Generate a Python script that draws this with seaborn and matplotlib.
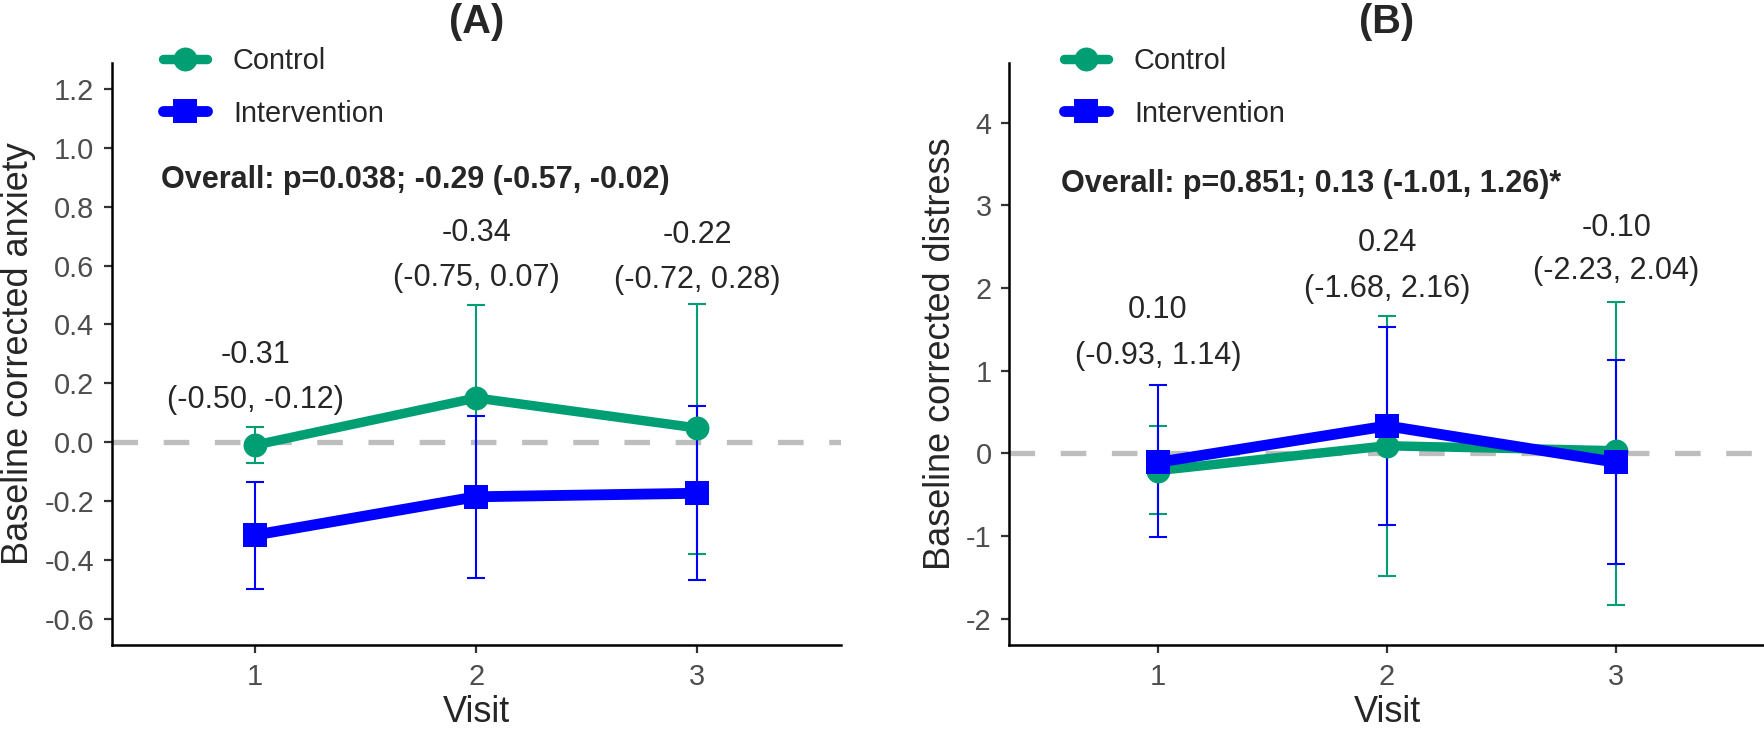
import pandas as pd
import numpy as np
import matplotlib
matplotlib.use('Agg')
import matplotlib.pyplot as plt
import seaborn as sns

sns.set_theme(style='ticks')
plt.rcParams['font.family'] = ['Liberation Sans', 'DejaVu Sans']

visits = [1, 2, 3]
groups = ['Control', 'Intervention']
colors = {'Control': '#009E73', 'Intervention': '#0000FF'}
markers = {'Control': 'o', 'Intervention': 's'}
widths = {'Control': 3.4, 'Intervention': 3.9}

# panel A - anxiety
anx_ctrl = [-0.01, 0.15, 0.048]
anx_ctrl_lo = [-0.072, -0.17, -0.38]
anx_ctrl_hi = [0.052, 0.466, 0.469]
anx_int = [-0.316, -0.186, -0.174]
anx_int_lo = [-0.50, -0.463, -0.47]
anx_int_hi = [-0.135, 0.088, 0.122]
anx_diff = ['-0.31', '-0.34', '-0.22']
anx_ci = ['(-0.50, -0.12)', '(-0.75, 0.07)', '(-0.72, 0.28)']
anx_overall = 'Overall: p=0.038; -0.29 (-0.57, -0.02)'

# panel B - distress
dis_ctrl = [-0.21, 0.09, 0.03]
dis_ctrl_lo = [-0.73, -1.49, -1.84]
dis_ctrl_hi = [0.33, 1.66, 1.83]
dis_int = [-0.11, 0.33, -0.11]
dis_int_lo = [-1.01, -0.87, -1.34]
dis_int_hi = [0.82, 1.53, 1.13]
dis_diff = ['0.10', '0.24', '-0.10']
dis_ci = ['(-0.93, 1.14)', '(-1.68, 2.16)', '(-2.23, 2.04)']
dis_overall = 'Overall: p=0.851; 0.13 (-1.01, 1.26)*'


def make_df(ctrl, intv):
    return pd.DataFrame({'Visit': visits * 2,
                         'value': ctrl + intv,
                         'group': ['Control'] * 3 + ['Intervention'] * 3})


fig = plt.figure(figsize=(8.825, 3.645), dpi=200)
axA = fig.add_axes([0.0633, 0.1152, 0.413, 0.7984])
axB = fig.add_axes([0.5717, 0.1152, 0.4283, 0.7984])

panels = [
    (axA, anx_ctrl, anx_ctrl_lo, anx_ctrl_hi, anx_int, anx_int_lo, anx_int_hi,
     'Baseline corrected anxiety', '(A)', (-0.690, 1.289),
     np.arange(-0.6, 1.21, 0.2), anx_diff, anx_ci, [0.296, 0.711, 0.704], [0.143, 0.558, 0.551],
     anx_overall, 0.891, '{:.1f}', -0.1044, 0.0704),
    (axB, dis_ctrl, dis_ctrl_lo, dis_ctrl_hi, dis_int, dis_int_lo, dis_int_hi,
     'Baseline corrected distress', '(B)', (-2.32, 4.72),
     np.arange(-2, 4.1, 1), dis_diff, dis_ci, [1.73, 2.54, 2.73], [1.17, 1.99, 2.21],
     dis_overall, 3.26, '{:.0f}', -0.0675, 0.0728),
]

for (ax, c, clo, chi, iv, ilo, ihi, ylab, title, yl, yt, diff, ci, ydiff, yci,
     overall, oy, fmt, ylab_x, leg_x) in panels:
    ax.axhline(0, color='#BEBEBE', lw=1.9, dashes=(4.85, 4.85), zorder=1)
    for vals, lo, hi, g in [(c, clo, chi, 'Control'), (iv, ilo, ihi, 'Intervention')]:
        v = np.array(vals)
        ax.errorbar(visits, v, yerr=[v - np.array(lo), np.array(hi) - v], fmt='none',
                    ecolor=colors[g], elinewidth=0.75, capsize=3.1, capthick=0.75, zorder=2)
    df = make_df(c, iv)
    for g in groups:
        sns.lineplot(data=df[df['group'] == g], x='Visit', y='value', color=colors[g],
                     marker=markers[g], lw=widths[g], markersize=8.6, markeredgewidth=0,
                     ax=ax, legend=False, zorder=3)
    ax.set_xlim(0.35, 3.65)
    ax.set_ylim(*yl)
    ax.set_xticks(visits)
    ax.set_yticks(yt)
    ax.set_yticklabels([fmt.format(t).replace('-0.0', '0.0') for t in yt])
    ax.set_xlabel('Visit', fontsize=13)
    ax.set_ylabel(ylab, fontsize=13)
    ax.xaxis.set_label_coords(0.5, -0.0866)
    ax.yaxis.set_label_coords(ylab_x, 0.5)
    ax.tick_params(labelsize=10.4, length=2.9, width=0.8, pad=3.4,
                   color='#333333', labelcolor='#4D4D4D')
    ax.text(0.5, 1.0704, title, transform=ax.transAxes, ha='center', va='center',
            fontsize=14.3, fontweight='bold')
    sns.despine(ax=ax)
    for s in ['left', 'bottom']:
        ax.spines[s].set_linewidth(0.9)
        ax.spines[s].set_color('black')
    for k in range(3):
        ax.text(visits[k], ydiff[k], diff[k], ha='center', va='center', fontsize=11)
        ax.text(visits[k], yci[k], ci[k], ha='center', va='center', fontsize=11)
    ax.text(0.575, oy, overall, ha='left', va='center', fontsize=11, fontweight='bold')

    handles = [plt.Line2D([], [], color=colors[g], marker=markers[g], lw=widths[g],
                          markersize=8.6, markeredgewidth=0)
               for g in groups]
    ax.legend(handles, groups, loc='upper left', bbox_to_anchor=(leg_x, 1.0275), frameon=False,
              fontsize=10.4, handlelength=1.52, labelspacing=0.85, handletextpad=0.9,
              borderpad=0, borderaxespad=0)

fig.savefig('out.png', dpi=200)
